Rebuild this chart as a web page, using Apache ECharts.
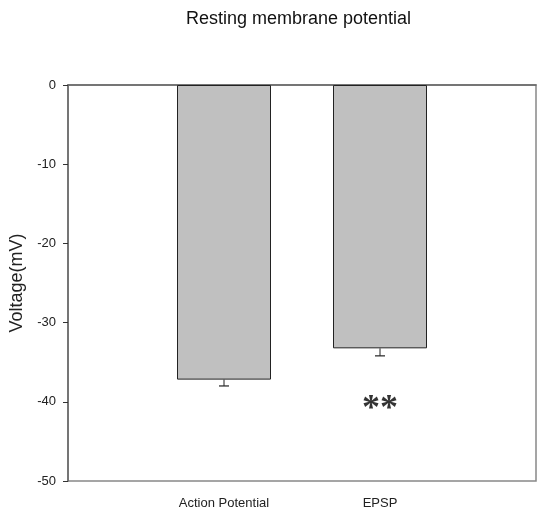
<!DOCTYPE html>
<html>
<head>
<meta charset="utf-8">
<script src="https://cdn.jsdelivr.net/npm/echarts@6/dist/echarts.min.js"></script>
<style>
  html, body { margin: 0; padding: 0; background: #ffffff; }
  #chart { width: 537px; height: 520px; }
</style>
</head>
<body>
<div id="chart"></div>
<script>
// Data
var categories = ['', 'Action Potential', 'EPSP', ''];
var meanValues = [null, -37.2, -33.25, null];
var errorLows = [null, -38.0, -34.2, null];
var significance = [['EPSP', -41.0, '**']];

var chart = echarts.init(document.getElementById('chart'), null, { renderer: 'canvas' });

var errData = [];
for (var i = 0; i < categories.length; i++) {
  if (meanValues[i] !== null) errData.push([i, meanValues[i], errorLows[i]]);
}

var option = {
  animation: false,
  backgroundColor: '#ffffff',
  title: {
    text: 'Resting membrane potential',
    left: 181, top: 5,
    textStyle: { fontFamily: 'Liberation Sans, Arial, sans-serif', fontSize: 18, fontWeight: 'normal', color: '#111' }
  },
  grid: {
    left: 68, right: 1, top: 85, bottom: 39,
    containLabel: false,
    outerBoundsMode: 'none',
    show: true, borderColor: '#888', borderWidth: 1.5, backgroundColor: 'transparent'
  },
  xAxis: {
    type: 'category',
    data: categories,
    boundaryGap: false,
    axisLine: { show: true, lineStyle: { color: '#666', width: 1.5 } },
    axisTick: {
      show: true, length: 5, inside: false,
      interval: function (idx) { return categories[idx] !== ''; },
      lineStyle: { color: '#333', width: 1 }
    },
    axisLabel: {
      interval: 0, margin: 16,
      fontFamily: 'Liberation Sans, Arial, sans-serif', fontSize: 13, color: '#222'
    },
    splitLine: { show: false }
  },
  yAxis: {
    type: 'value',
    min: -50, max: 0, interval: 10,
    name: 'Voltage(mV)', nameLocation: 'middle', nameGap: 41,
    nameTextStyle: { fontFamily: 'Liberation Sans, Arial, sans-serif', fontSize: 18, color: '#222' },
    axisLine: { show: true, lineStyle: { color: '#666', width: 1.5 } },
    axisTick: { show: true, length: 5, inside: false, lineStyle: { color: '#333', width: 1 } },
    axisLabel: { margin: 12, fontFamily: 'Liberation Sans, Arial, sans-serif', fontSize: 13, color: '#222' },
    splitLine: { show: false }
  },
  series: [
    {
      type: 'bar',
      data: meanValues,
      barWidth: 94,
      itemStyle: { color: '#c0c0c0', borderColor: '#222', borderWidth: 1 },
      z: 2
    },
    {
      type: 'custom',
      data: errData,
      z: 3,
      renderItem: function (params, api) {
        var x = api.value(0);
        var top = api.coord([x, api.value(1)]);
        var low = api.coord([x, api.value(2)]);
        var half = 5;
        return {
          type: 'group',
          children: [
            { type: 'line', shape: { x1: top[0], y1: top[1], x2: low[0], y2: low[1] }, style: { stroke: '#222', lineWidth: 1 } },
            { type: 'line', shape: { x1: low[0] - half, y1: low[1], x2: low[0] + half, y2: low[1] }, style: { stroke: '#222', lineWidth: 1.2 } }
          ]
        };
      }
    },
    {
      type: 'scatter',
      data: significance,
      symbolSize: 0,
      z: 4,
      label: {
        show: true, position: 'inside',
        formatter: function (p) { return p.data[2]; },
        fontFamily: 'Liberation Serif, Times New Roman, serif', fontSize: 36, fontWeight: 'bold', color: '#000'
      }
    }
  ]
};
chart.setOption(option);
</script>
</body>
</html>
